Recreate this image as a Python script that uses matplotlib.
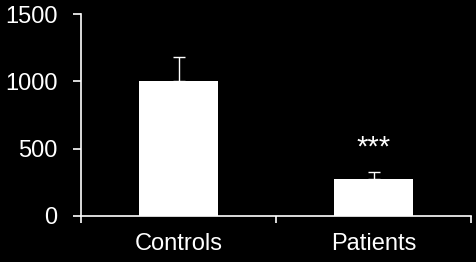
import matplotlib
matplotlib.use("Agg")
import matplotlib.pyplot as plt

# data
groups = ["Controls", "Patients"]
means = [1000, 272]
errors = [183, 55]
signif = ["", "***"]
yticks = [0, 500, 1000, 1500]

plt.rcParams['font.family'] = ['Liberation Sans', 'DejaVu Sans']

fig = plt.figure(figsize=(4.76, 2.62), dpi=100, facecolor='black')
ax = fig.add_axes([81/476, 1 - 216/262, 390/476, 202/262])
ax.set_facecolor('black')

x = list(range(len(groups)))
ax.bar(x, means, width=0.41, color='white', zorder=2)
ax.errorbar(x, means, yerr=[[0]*len(errors), errors], fmt='none',
            ecolor='white', elinewidth=1, capsize=4, capthick=1, zorder=1)
for xi, m, e, s in zip(x, means, errors, signif):
    if s:
        ax.text(xi, m + e + 80, s, ha='center', va='bottom', color='white', fontsize=21)

ax.set_xlim(-0.5, len(groups) - 0.5)
ax.set_ylim(0, 1500)
ax.set_yticks(yticks)
ax.set_xticks(x)
ax.set_xticklabels(groups)
ax.set_xticks([-0.5, 0.5, 1.5], minor=True)

for side in ['top', 'right']:
    ax.spines[side].set_visible(False)
for side in ['left', 'bottom']:
    ax.spines[side].set_color('white')
    ax.spines[side].set_linewidth(1.2)

ax.tick_params(axis='x', which='major', length=0, pad=12, labelsize=17, colors='white')
ax.tick_params(axis='x', which='minor', length=5, width=1.2, color='white', direction='out')
ax.tick_params(axis='y', length=6, width=1.2, pad=11, labelsize=17, colors='white')

fig.savefig('out.png', dpi=100, facecolor='black')
